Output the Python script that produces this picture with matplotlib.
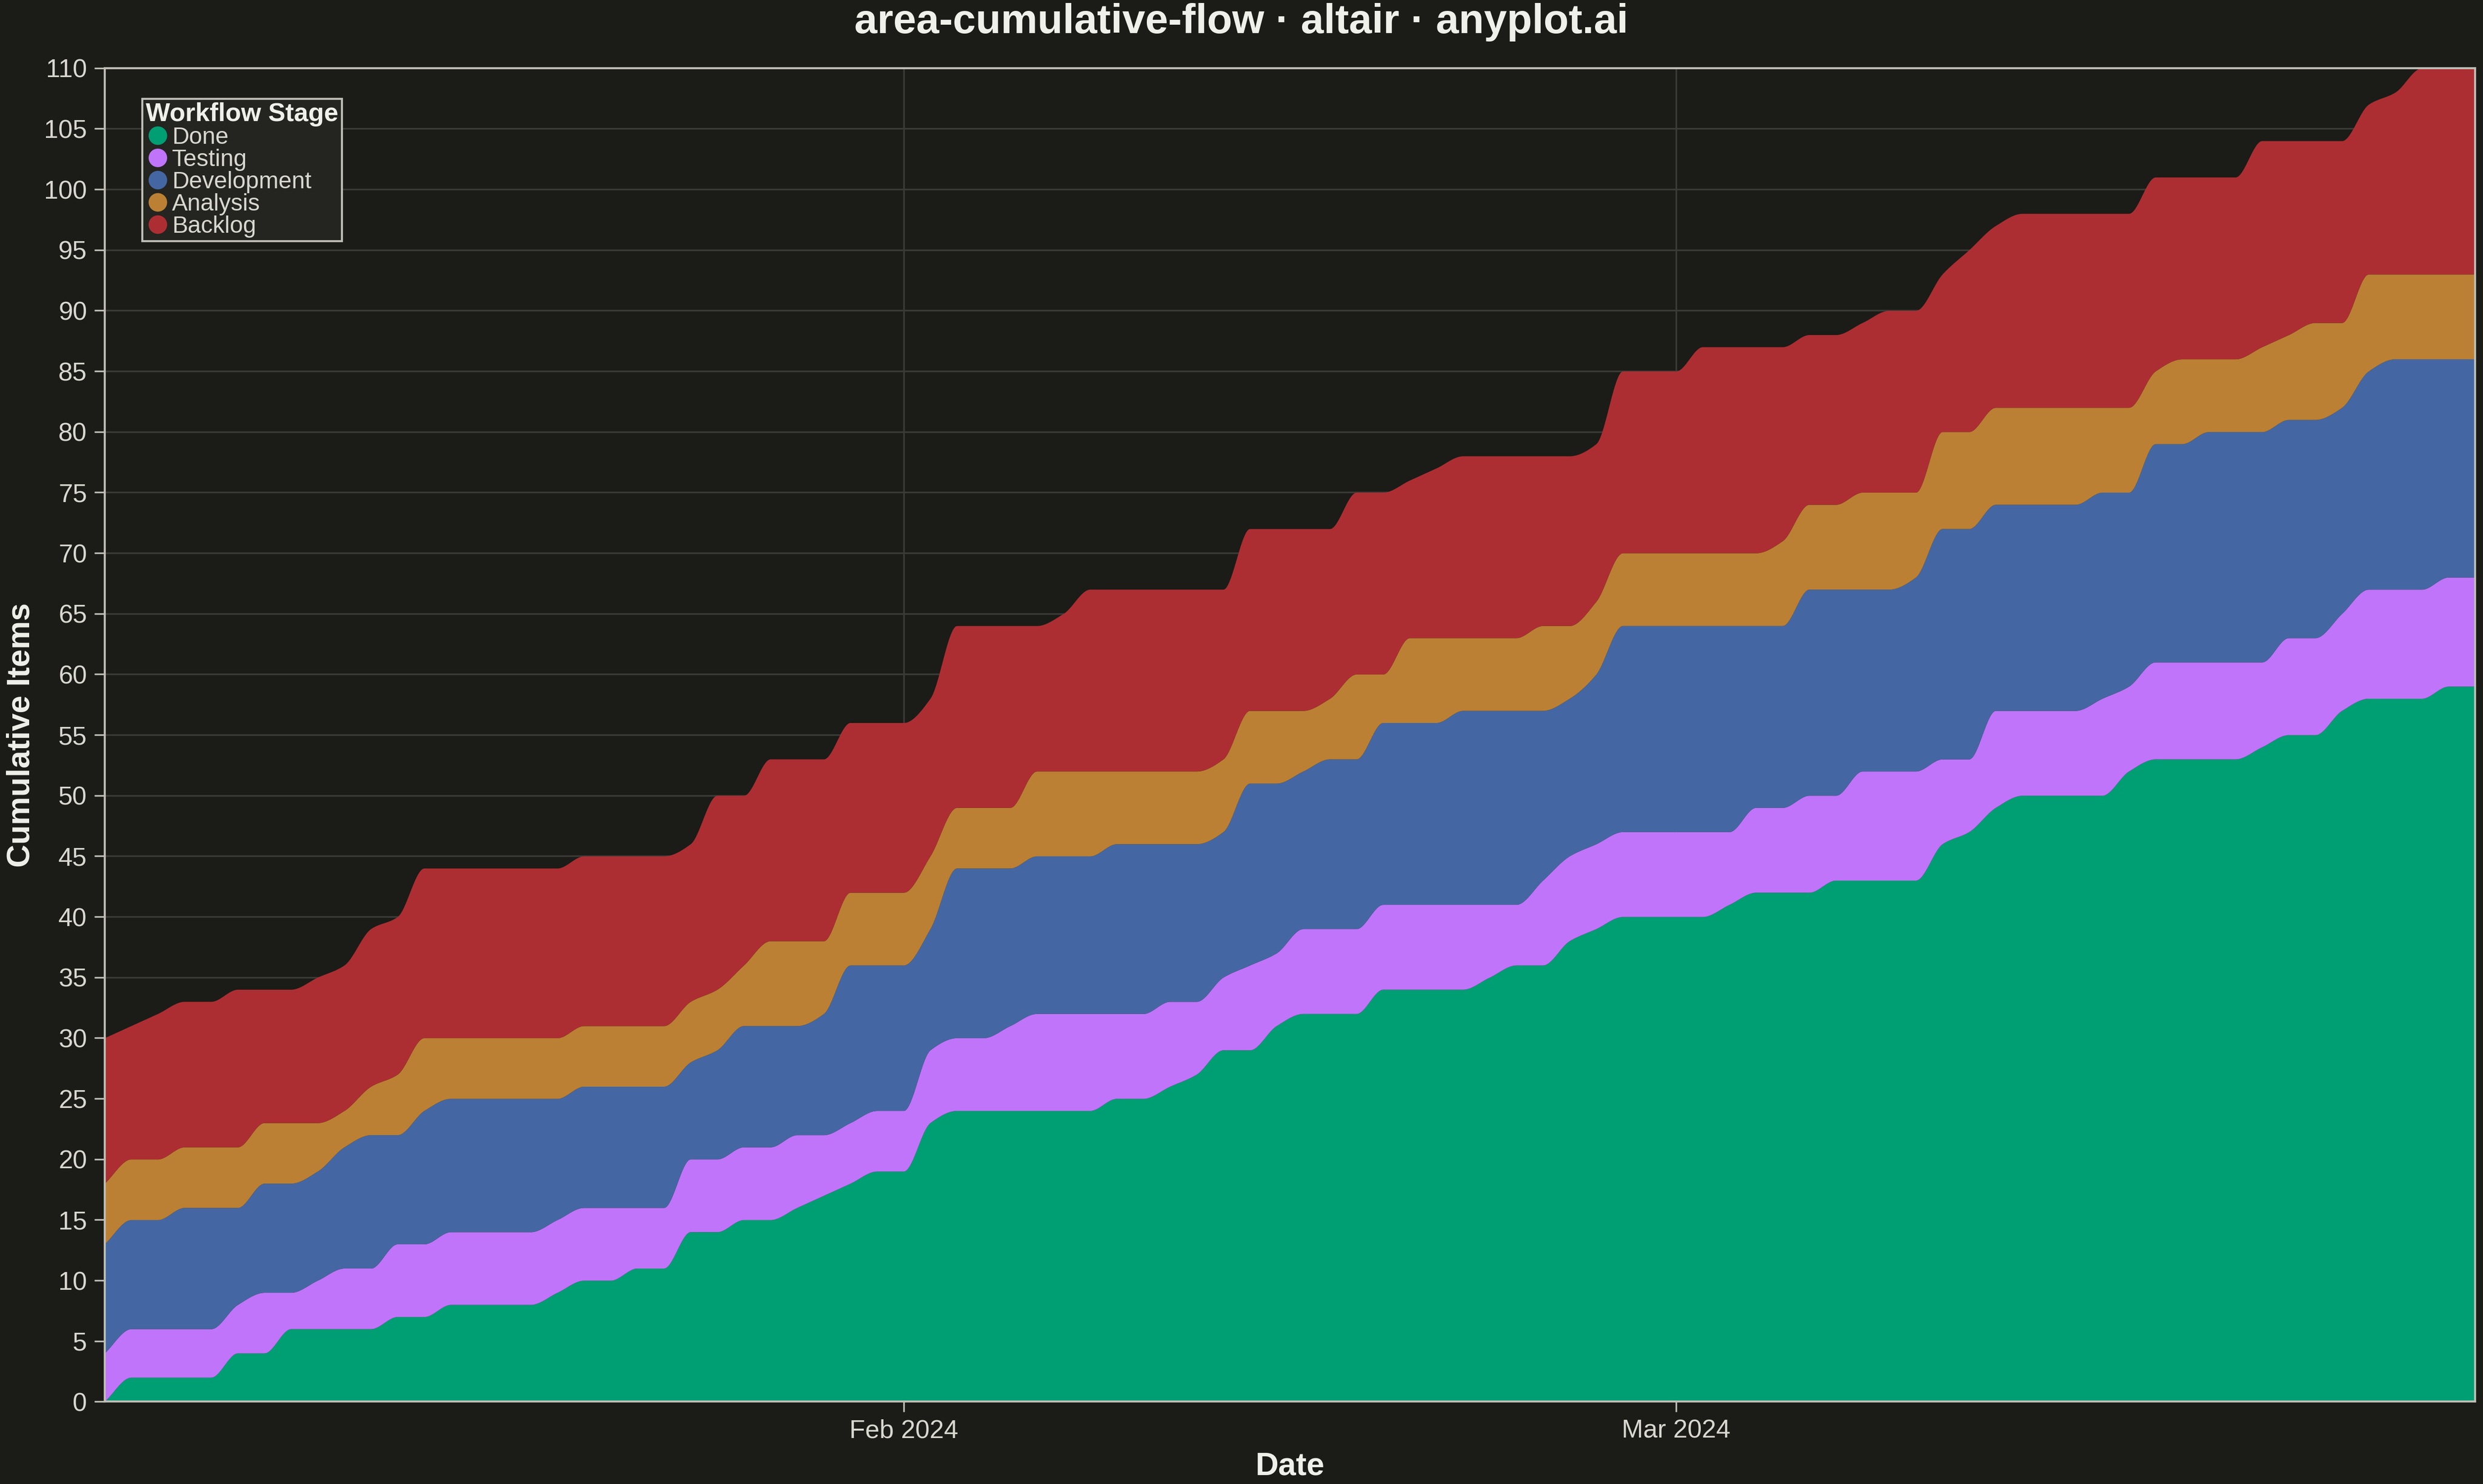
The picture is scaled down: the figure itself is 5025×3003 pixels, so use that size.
import numpy as np
import pandas as pd
import matplotlib
matplotlib.use("Agg")
import matplotlib.pyplot as plt
import matplotlib.dates as mdates
from matplotlib.lines import Line2D

dates = pd.date_range("2024-01-02", "2024-03-31", freq="D")
stages = ["Done", "Testing", "Development", "Analysis", "Backlog"]
colors = ["#009e73", "#c074f9", "#4467a3", "#bb8033", "#ad2e32"]

# cumulative tops of each stacked band
done_top = [0,2,2,2,2,4,4,6,6,6,6,7,7,8,8,8,8,9,10,10,11,11,14,
            14,15,15,16,17,18,19,19,23,24,24,24,24,24,24,25,25,26,27,29,29,31,
            32,32,32,34,34,34,34,35,36,36,38,39,40,40,40,40,41,42,42,42,43,43,
            43,43,46,47,49,50,50,50,50,52,53,53,53,53,54,55,55,57,58,58,58,59,59]
testing_top = [4,6,6,6,6,8,9,9,10,11,11,13,13,14,14,14,14,15,16,16,16,16,20,
               20,21,21,22,22,23,24,24,29,30,30,31,32,32,32,32,32,33,33,35,36,37,
               39,39,39,41,41,41,41,41,41,43,45,46,47,47,47,47,47,49,49,50,50,52,
               52,52,53,53,57,57,57,57,58,59,61,61,61,61,61,63,63,65,67,67,67,68,68]
dev_top = [13,15,15,16,16,16,18,18,19,21,22,22,24,25,25,25,25,25,26,26,26,26,28,
           29,31,31,31,32,36,36,36,39,44,44,44,45,45,45,46,46,46,46,47,51,51,
           52,53,53,56,56,56,57,57,57,57,58,60,64,64,64,64,64,64,64,67,67,67,
           67,68,72,72,74,74,74,74,75,75,79,79,80,80,80,81,81,82,85,86,86,86,86]
analysis_top = [18,20,20,21,21,21,23,23,23,24,26,27,30,30,30,30,30,30,31,31,31,31,33,
                34,36,38,38,38,42,42,42,45,49,49,49,52,52,52,52,52,52,52,53,57,57,
                57,58,60,60,63,63,63,63,63,64,64,66,70,70,70,70,70,70,71,74,74,75,
                75,75,80,80,82,82,82,82,82,82,85,86,86,86,87,88,89,89,93,93,93,93,93]
backlog_top = [30,31,32,33,33,34,34,34,35,36,39,40,44,44,44,44,44,44,45,45,45,45,46,
               50,50,53,53,53,56,56,56,58,64,64,64,64,65,67,67,67,67,67,67,72,72,
               72,72,75,75,76,77,78,78,78,78,78,79,85,85,85,87,87,87,87,88,88,89,
               90,90,93,95,97,98,98,98,98,98,101,101,101,101,104,104,104,104,107,108,110,110,110]
tops = [done_top, testing_top, dev_top, analysis_top, backlog_top]


def pchip(x, y, xn):
    x = np.asarray(x, float); y = np.asarray(y, float)
    h = np.diff(x); d = np.diff(y) / h
    m = np.zeros_like(y)
    for k in range(1, len(y) - 1):
        if d[k-1] * d[k] > 0:
            w1 = 2*h[k] + h[k-1]; w2 = h[k] + 2*h[k-1]
            m[k] = (w1 + w2) / (w1/d[k-1] + w2/d[k])
    m[0] = d[0]; m[-1] = d[-1]
    idx = np.clip(np.searchsorted(x, xn) - 1, 0, len(x) - 2)
    t = (xn - x[idx]) / h[idx]
    h00 = 2*t**3 - 3*t**2 + 1; h10 = t**3 - 2*t**2 + t
    h01 = -2*t**3 + 3*t**2; h11 = t**3 - t**2
    return h00*y[idx] + h10*h[idx]*m[idx] + h01*y[idx+1] + h11*h[idx]*m[idx+1]

bg = "#1b1b17"
fg = "#d8d8d0"
plt.rcParams["font.family"] = ["Liberation Sans", "DejaVu Sans"]
fig = plt.figure(figsize=(16.75, 10.01), dpi=300, facecolor=bg)
ax = fig.add_axes([66/1568, 1-885/937, (1563-66)/1568, (885-43)/937], facecolor=bg)

xnum = mdates.date2num(dates)
xf = np.linspace(xnum[0], xnum[-1], 3000)
prev = np.zeros_like(xf)
for name, col, top in zip(stages, colors, tops):
    yf = pchip(xnum, top, xf)
    ax.fill_between(xf, prev, yf, color=col, lw=0, zorder=2)
    prev = yf

ax.set_xlim(xnum[0], xnum[-1])
ax.set_ylim(0, 110)
ax.set_yticks(np.arange(0, 111, 5))
ax.xaxis.set_major_locator(mdates.MonthLocator())
ax.xaxis.set_major_formatter(mdates.DateFormatter("%b %Y"))
ax.grid(True, color="#3a3a36", lw=0.8, zorder=0)
ax.set_axisbelow(True)
for s in ax.spines.values():
    s.set_color("#bdbdb5"); s.set_linewidth(1.0)
ax.tick_params(colors=fg, labelsize=12.5, length=5, color="#bdbdb5")
ax.set_xlabel("Date", color="#f0f0ea", fontsize=15.5, fontweight="bold", labelpad=4)
ax.set_ylabel("Cumulative Items", color="#f0f0ea", fontsize=15.5, fontweight="bold", labelpad=4)
fig.suptitle("area-cumulative-flow · altair · anyplot.ai", color="#f0f0ea",
             fontsize=20, fontweight="bold", y=0.998, va="top")

handles = [Line2D([], [], marker="o", ls="", color=c, markersize=8) for c in colors]
leg = ax.legend(handles, stages, title="Workflow Stage", loc="upper left",
                bbox_to_anchor=(0.011, 0.986), frameon=True, fontsize=11.5,
                title_fontproperties={"weight": "bold", "size": 12.5},
                handletextpad=0.1, borderpad=0.15, labelspacing=0.0,
                handlelength=1.0, fancybox=False)
leg.get_frame().set_facecolor("#242420")
leg.get_frame().set_edgecolor("#bdbdb5")
leg.get_frame().set_alpha(1)
leg.get_title().set_color("#f0f0ea")
for t in leg.get_texts():
    t.set_color(fg)
leg._legend_box.align = "left"

fig.savefig("out.png", dpi=300, facecolor=bg)
